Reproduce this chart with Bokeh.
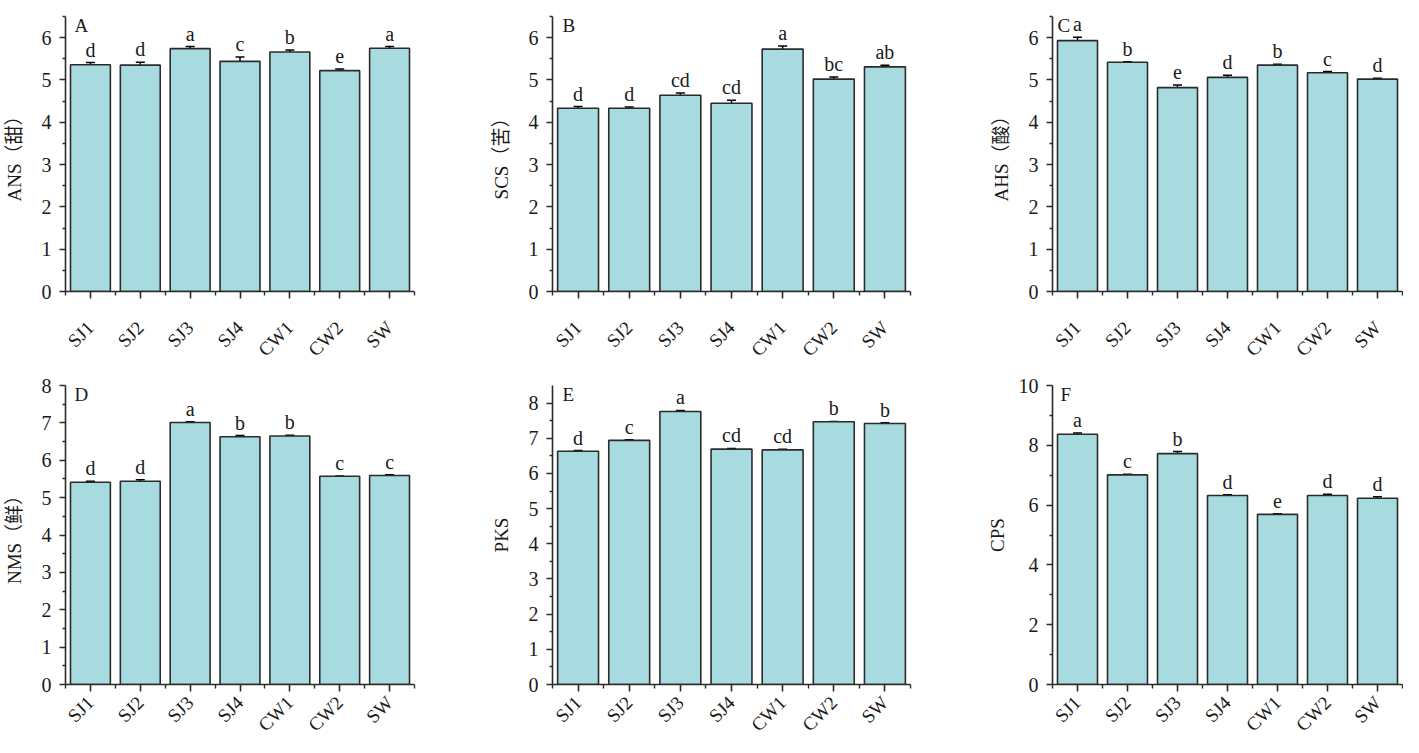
import math
from bokeh.plotting import figure
from bokeh.models import Range1d, FixedTicker, ColumnDataSource, Whisker, TeeHead, Label
from bokeh.layouts import row, column
from bokeh.embed import file_html
from bokeh.resources import INLINE
from bokeh.core.properties import value

categories = ["SJ1", "SJ2", "SJ3", "SJ4", "CW1", "CW2", "SW"]

ans_mean = [5.36, 5.35, 5.74, 5.44, 5.66, 5.22, 5.75]
ans_err = [0.05, 0.07, 0.05, 0.10, 0.05, 0.04, 0.04]
ans_sig = ["d", "d", "a", "c", "b", "e", "a"]

scs_mean = [4.33, 4.33, 4.64, 4.45, 5.73, 5.02, 5.31]
scs_err = [0.04, 0.03, 0.05, 0.07, 0.07, 0.05, 0.04]
scs_sig = ["d", "d", "cd", "cd", "a", "bc", "ab"]

ahs_mean = [5.93, 5.42, 4.82, 5.06, 5.35, 5.17, 5.02]
ahs_err = [0.08, 0.01, 0.06, 0.05, 0.02, 0.03, 0.02]
ahs_sig = ["a", "b", "e", "d", "b", "c", "d"]

nms_mean = [5.41, 5.44, 7.01, 6.63, 6.65, 5.57, 5.59]
nms_err = [0.03, 0.04, 0.02, 0.03, 0.02, 0.01, 0.02]
nms_sig = ["d", "d", "a", "b", "b", "c", "c"]

pks_mean = [6.63, 6.94, 7.76, 6.69, 6.67, 7.47, 7.42]
pks_err = [0.02, 0.02, 0.03, 0.02, 0.02, 0.01, 0.02]
pks_sig = ["d", "c", "a", "cd", "cd", "b", "b"]

cps_mean = [8.37, 7.01, 7.72, 6.32, 5.69, 6.32, 6.23]
cps_err = [0.04, 0.02, 0.07, 0.03, 0.02, 0.04, 0.05]
cps_sig = ["a", "c", "b", "d", "e", "d", "d"]

FONT = "Liberation Serif"
LABEL_FONT = "'Liberation Serif', 'Noto Sans CJK SC'"
FILL = "#a8dbe0"
DARK = "#2b2b2b"

panels = [
    dict(letter="A", ylabel="ANS（甜）", mean=ans_mean, err=ans_err, sig=ans_sig,
         ymax=6.5, major=[0, 1, 2, 3, 4, 5, 6], minor=[0.5, 1.5, 2.5, 3.5, 4.5, 5.5, 6.5],
         lab_dx=9, stand=14),
    dict(letter="B", ylabel="SCS（苦）", mean=scs_mean, err=scs_err, sig=scs_sig,
         ymax=6.5, major=[0, 1, 2, 3, 4, 5, 6], minor=[0.5, 1.5, 2.5, 3.5, 4.5, 5.5, 6.5],
         lab_dx=10, stand=14),
    dict(letter="C", ylabel="AHS（酸）", mean=ahs_mean, err=ahs_err, sig=ahs_sig,
         ymax=6.5, major=[0, 1, 2, 3, 4, 5, 6], minor=[0.5, 1.5, 2.5, 3.5, 4.5, 5.5, 6.5],
         lab_dx=5, stand=14),
    dict(letter="D", ylabel="NMS（鲜）", mean=nms_mean, err=nms_err, sig=nms_sig,
         ymax=8, major=[0, 1, 2, 3, 4, 5, 6, 7, 8], minor=[0.5, 1.5, 2.5, 3.5, 4.5, 5.5, 6.5, 7.5],
         lab_dx=9, stand=14),
    dict(letter="E", ylabel="PKS", mean=pks_mean, err=pks_err, sig=pks_sig,
         ymax=8.5, major=[0, 1, 2, 3, 4, 5, 6, 7, 8], minor=[0.5, 1.5, 2.5, 3.5, 4.5, 5.5, 6.5, 7.5],
         lab_dx=10, stand=14),
    dict(letter="F", ylabel="CPS", mean=cps_mean, err=cps_err, sig=cps_sig,
         ymax=10, major=[0, 2, 4, 6, 8, 10], minor=[1, 3, 5, 7, 9],
         lab_dx=8, stand=8),
]

# column geometry: (width, min_border_left, min_border_right)
cols = [(480, 58, 66), (480, 72, 50), (443, 92, 1)]
# row geometry: (height, min_border_top, min_border_bottom, x label standoff)
rows_g = [(370, 16, 78, 26), (375, 15, 57, 8)]

xpos = list(range(1, len(categories) + 1))
x_overrides = {i: c for i, c in zip(xpos, categories)}


def make_panel(spec, colg, rowg):
    w, mbl, mbr = colg
    h, mbt, mbb, xstand = rowg
    p = figure(width=w, height=h, output_backend="svg", toolbar_location=None,
               x_range=Range1d(0.5, 7.5), y_range=Range1d(0, spec["ymax"]),
               min_border_left=mbl, min_border_right=mbr,
               min_border_top=mbt, min_border_bottom=mbb,
               background_fill_color="white", border_fill_color="white")
    p.outline_line_color = None
    p.grid.visible = False

    upper = [m + e for m, e in zip(spec["mean"], spec["err"])]
    lower = [m - e for m, e in zip(spec["mean"], spec["err"])]
    src = ColumnDataSource(dict(x=xpos, top=spec["mean"], upper=upper, lower=lower, sig=spec["sig"]))

    p.vbar(x="x", top="top", bottom=0, width=0.8, source=src,
           fill_color=FILL, line_color=DARK, line_width=1.6)

    wh = Whisker(source=src, base="x", upper="upper", lower="lower",
                 line_color="black", line_width=1.5,
                 upper_head=TeeHead(size=9, line_color="black", line_width=1.5),
                 lower_head=TeeHead(size=9, line_color="black", line_width=1.5))
    p.add_layout(wh)

    p.text(x="x", y="upper", text="sig", source=src, text_align="center",
           text_baseline="alphabetic", y_offset=-13,
           text_font=value(FONT), text_font_size="20px", text_color="#1a1a1a")

    p.add_layout(Label(x=0.5, y=spec["ymax"], x_offset=spec["lab_dx"], y_offset=-9,
                       text=spec["letter"], text_font=FONT, text_font_size="19px",
                       text_color="#1a1a1a", text_baseline="alphabetic", text_align="left"))

    xa = p.xaxis[0]
    xa.ticker = FixedTicker(ticks=xpos, minor_ticks=[0.5, 1.5, 2.5, 3.5, 4.5, 5.5, 6.5, 7.5])
    xa.major_label_overrides = x_overrides
    xa.major_label_orientation = math.pi / 4
    xa.major_label_text_font = FONT
    xa.major_label_text_font_size = "19px"
    xa.major_label_text_color = "#1a1a1a"
    xa.major_label_standoff = xstand
    xa.axis_line_color = DARK
    xa.axis_line_width = 1.6
    xa.major_tick_line_color = DARK
    xa.major_tick_line_width = 1.6
    xa.major_tick_out = 7
    xa.major_tick_in = 0
    xa.minor_tick_line_color = DARK
    xa.minor_tick_line_width = 1.4
    xa.minor_tick_out = 4
    xa.minor_tick_in = 0

    ya = p.yaxis[0]
    ya.ticker = FixedTicker(ticks=spec["major"], minor_ticks=spec["minor"])
    ya.major_label_text_font = FONT
    ya.major_label_text_font_size = "20px"
    ya.major_label_text_color = "#1a1a1a"
    ya.major_label_standoff = 8
    ya.axis_line_color = DARK
    ya.axis_line_width = 1.6
    ya.major_tick_line_color = DARK
    ya.major_tick_line_width = 1.6
    ya.major_tick_out = 6
    ya.major_tick_in = 0
    ya.minor_tick_line_color = DARK
    ya.minor_tick_line_width = 1.4
    ya.minor_tick_out = 3
    ya.minor_tick_in = 0
    ya.axis_label = spec["ylabel"]
    ya.axis_label_text_font = LABEL_FONT
    ya.axis_label_text_font_size = "19px"
    ya.axis_label_text_font_style = "normal"
    ya.axis_label_text_color = "#1a1a1a"
    ya.axis_label_standoff = spec["stand"]
    return p


figs = []
for i, spec in enumerate(panels):
    r, c = divmod(i, 3)
    figs.append(make_panel(spec, cols[c], rows_g[r]))

layout = column(row(*figs[:3]), row(*figs[3:]))

open("out.html", "w").write(file_html(layout, INLINE))
